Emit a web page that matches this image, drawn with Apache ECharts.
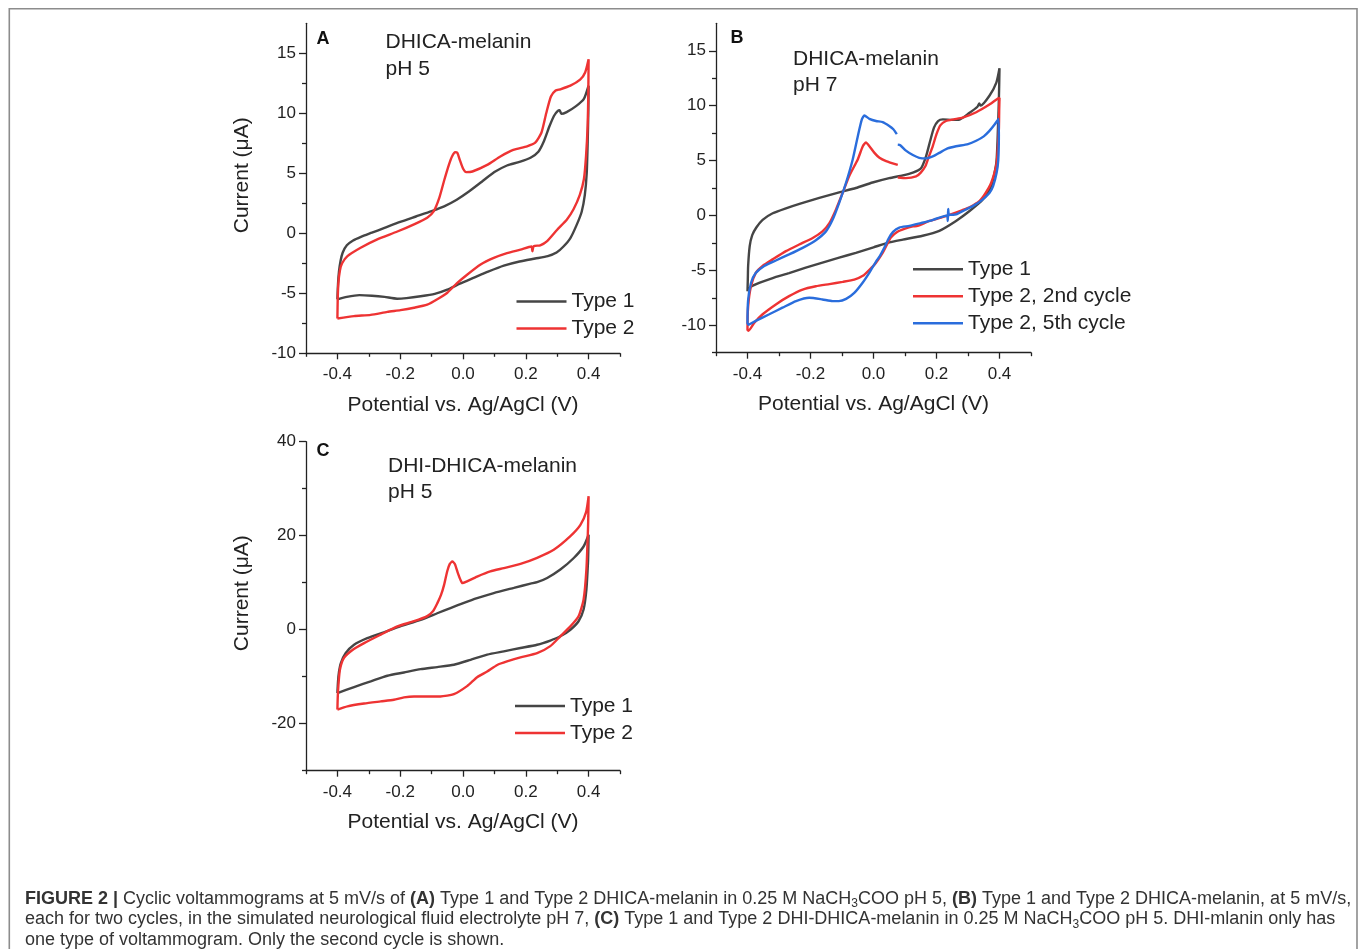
<!DOCTYPE html>
<html>
<head>
<meta charset="utf-8">
<title>Figure 2 - Cyclic voltammograms</title>
<script src="https://cdn.jsdelivr.net/npm/echarts@6/dist/echarts.min.js"></script>
<style>
  html, body { margin: 0; padding: 0; background: #ffffff; }
  #chart { width: 1362px; height: 949px; }
</style>
</head>
<body>
<div id="chart"></div>
<script>
// ---------------- Data (potential V, current µA), in scan order ----------------
const X_MAJOR = [-0.4, -0.2, 0.0, 0.2, 0.4];
const X_MINOR = [-0.5, -0.3, -0.1, 0.1, 0.3, 0.5];
const YA_MAJOR = [-10, -5, 0, 5, 10, 15];
const YA_MINOR = [-7.5, -2.5, 2.5, 7.5, 12.5];
const YB_MAJOR = [-10, -5, 0, 5, 10, 15];
const YB_MINOR = [-12.5, -7.5, -2.5, 2.5, 7.5, 12.5];
const YC_MAJOR = [-20, 0, 20, 40];
const YC_MINOR = [-30, -10, 10, 30];

// Panel A: DHICA-melanin pH 5
const A_type1 = [
  [-0.400,-5.5],[-0.398,-4.2],[-0.395,-3.2],[-0.390,-2.3],[-0.383,-1.6],[-0.370,-1.0],[-0.350,-0.6],
  [-0.325,-0.3],[-0.290,0.05],[-0.250,0.45],[-0.200,0.95],[-0.150,1.4],[-0.100,1.85],[-0.060,2.25],
  [-0.020,2.8],[0.020,3.5],[0.060,4.3],[0.100,5.1],[0.140,5.65],[0.180,5.95],[0.215,6.3],[0.240,6.8],
  [0.258,7.7],[0.275,8.9],[0.290,9.8],[0.302,10.2],[0.308,10.25],[0.313,9.95],[0.330,10.1],[0.360,10.6],
  [0.385,11.2],[0.400,12.3],
  [0.399,10.0],[0.397,7.5],[0.394,5.0],[0.388,3.2],[0.378,1.8],[0.362,0.7],[0.342,-0.4],[0.320,-1.1],
  [0.298,-1.6],[0.270,-1.9],[0.230,-2.1],[0.180,-2.35],[0.130,-2.7],[0.080,-3.2],[0.035,-3.7],
  [-0.010,-4.2],[-0.050,-4.7],[-0.090,-5.05],[-0.135,-5.25],[-0.180,-5.4],[-0.210,-5.45],[-0.250,-5.3],
  [-0.290,-5.2],[-0.330,-5.15],[-0.370,-5.3],[-0.400,-5.5]
];
const A_type2 = [
  [-0.400,-7.1],[-0.399,-5.5],[-0.397,-4.2],[-0.392,-3.1],[-0.385,-2.5],[-0.368,-1.9],[-0.326,-1.2],
  [-0.273,-0.5],[-0.209,0.15],[-0.156,0.75],[-0.114,1.3],[-0.093,1.85],[-0.075,3.0],[-0.060,4.4],
  [-0.045,5.7],[-0.035,6.4],[-0.025,6.75],[-0.018,6.7],[-0.010,6.1],[0.000,5.4],[0.010,5.1],[0.030,5.15],
  [0.077,5.7],[0.119,6.4],[0.160,6.95],[0.204,7.25],[0.230,7.55],[0.250,8.4],[0.265,10.0],[0.280,11.4],
  [0.295,11.9],[0.310,12.0],[0.342,12.3],[0.373,12.8],[0.389,13.4],[0.400,14.5],
  [0.399,11.5],[0.397,9.0],[0.392,6.5],[0.385,4.5],[0.372,3.2],[0.352,2.0],[0.331,1.15],[0.300,0.3],
  [0.268,-0.65],[0.246,-1.0],[0.225,-1.08],[0.221,-1.5],[0.218,-1.1],[0.183,-1.36],[0.140,-1.65],
  [0.098,-2.05],[0.056,-2.6],[0.013,-3.45],[-0.019,-4.15],[-0.050,-4.95],[-0.082,-5.5],[-0.114,-5.95],
  [-0.156,-6.2],[-0.199,-6.4],[-0.241,-6.55],[-0.294,-6.8],[-0.347,-6.9],[-0.400,-7.1]
];

// Panel B: DHICA-melanin pH 7
const B_type1 = [
  [-0.400,-6.9],[-0.399,-5.8],[-0.398,-4.6],[-0.393,-2.8],[-0.385,-1.8],[-0.372,-1.1],[-0.352,-0.4],
  [-0.320,0.2],[-0.278,0.65],[-0.230,1.1],[-0.172,1.6],[-0.109,2.1],[-0.056,2.5],[-0.003,3.0],[0.050,3.4],
  [0.093,3.65],[0.125,3.9],[0.151,4.3],[0.167,5.4],[0.180,6.8],[0.192,8.0],[0.205,8.6],[0.220,8.75],
  [0.250,8.7],[0.270,8.7],[0.305,9.35],[0.330,9.9],[0.336,10.2],[0.340,10.0],[0.368,10.9],[0.390,12.1],
  [0.400,13.4],
  [0.398,10.5],[0.395,7.85],[0.390,4.8],[0.374,2.7],[0.347,1.45],[0.305,0.4],[0.262,-0.5],[0.209,-1.4],
  [0.156,-1.85],[0.093,-2.2],[0.050,-2.45],[0.000,-2.9],[-0.056,-3.4],[-0.109,-3.85],[-0.162,-4.3],
  [-0.215,-4.75],[-0.268,-5.25],[-0.320,-5.7],[-0.363,-6.15],[-0.389,-6.5],[-0.400,-6.9]
];
const B_type2_2nd = [
  [0.077,3.45],[0.103,3.4],[0.135,3.55],[0.150,3.9],[0.165,4.5],[0.175,5.3],[0.188,6.3],[0.200,7.4],
  [0.212,8.2],[0.230,8.6],[0.255,8.75],[0.283,8.9],[0.326,9.4],[0.368,10.1],[0.395,10.65],[0.400,10.7],
  [0.399,9.5],[0.398,7.85],[0.391,4.8],[0.374,3.0],[0.355,2.0],[0.336,1.3],[0.305,0.75],[0.283,0.5],
  [0.230,-0.06],[0.178,-0.5],[0.140,-0.95],[0.125,-1.0],[0.100,-1.2],[0.075,-1.5],[0.055,-2.0],
  [0.040,-2.8],[0.029,-3.4],[0.008,-4.3],[-0.013,-4.95],[-0.034,-5.5],[-0.061,-5.85],[-0.098,-6.05],
  [-0.140,-6.25],[-0.183,-6.45],[-0.225,-6.75],[-0.268,-7.35],[-0.310,-8.1],[-0.352,-9.0],[-0.379,-9.8],
  [-0.397,-10.5],[-0.400,-10.4],
  [-0.398,-8.3],[-0.389,-6.45],[-0.374,-5.25],[-0.352,-4.6],[-0.320,-4.0],[-0.278,-3.25],[-0.236,-2.65],
  [-0.193,-2.05],[-0.162,-1.45],[-0.140,-0.7],[-0.119,0.55],[-0.098,2.05],[-0.077,3.6],[-0.050,5.1],
  [-0.034,6.3],[-0.024,6.65],[-0.013,6.3],[0.003,5.7],[0.019,5.25],[0.040,4.95],[0.077,4.6]
];
const B_type2_5th = [
  [0.077,6.45],[0.085,6.4],[0.103,5.9],[0.125,5.5],[0.145,5.25],[0.167,5.2],[0.190,5.4],[0.209,5.7],
  [0.235,6.1],[0.262,6.3],[0.300,6.5],[0.326,6.8],[0.350,7.2],[0.368,7.7],[0.385,8.3],[0.397,8.8],
  [0.398,7.3],[0.396,5.0],[0.391,3.9],[0.380,2.7],[0.368,2.05],[0.340,1.3],[0.315,0.85],[0.290,0.5],
  [0.262,0.1],[0.240,0.05],[0.237,0.6],[0.236,-0.5],[0.233,0.0],[0.199,-0.3],[0.178,-0.5],[0.150,-0.7],
  [0.114,-0.95],[0.082,-1.1],[0.062,-1.5],[0.048,-2.1],[0.035,-2.9],[0.020,-3.7],[0.008,-4.2],
  [-0.013,-5.2],[-0.034,-6.1],[-0.061,-7.05],[-0.087,-7.6],[-0.110,-7.8],[-0.130,-7.8],[-0.162,-7.65],
  [-0.204,-7.5],[-0.246,-7.8],[-0.289,-8.4],[-0.331,-9.0],[-0.374,-9.6],[-0.397,-9.95],[-0.400,-9.8],
  [-0.398,-7.7],[-0.389,-6.15],[-0.374,-5.25],[-0.347,-4.6],[-0.310,-4.1],[-0.268,-3.55],[-0.225,-2.95],
  [-0.183,-2.25],[-0.151,-1.45],[-0.130,-0.4],[-0.109,1.15],[-0.087,3.0],[-0.066,5.1],[-0.050,7.2],
  [-0.037,8.75],[-0.029,9.1],[-0.013,8.8],[0.008,8.6],[0.029,8.5],[0.050,8.15],[0.063,7.85],[0.074,7.4]
];

// Panel C: DHI-DHICA-melanin pH 5
const C_type1 = [
  [-0.400,-13.5],[-0.398,-11.0],[-0.395,-9.0],[-0.389,-7.1],[-0.374,-5.0],[-0.347,-3.2],[-0.305,-1.8],
  [-0.252,-0.55],[-0.200,0.7],[-0.135,2.1],[-0.082,3.5],[-0.040,4.6],[0.003,5.7],[0.045,6.7],[0.098,7.8],
  [0.162,8.9],[0.215,9.8],[0.236,10.1],[0.268,11.0],[0.310,12.8],[0.352,15.2],[0.384,17.7],[0.400,20.2],
  [0.399,16.5],[0.398,14.2],[0.393,8.5],[0.384,4.3],[0.368,1.8],[0.342,0.0],[0.310,-1.4],[0.278,-2.3],
  [0.236,-3.2],[0.183,-3.9],[0.130,-4.6],[0.077,-5.3],[0.024,-6.4],[-0.029,-7.45],[-0.082,-7.95],
  [-0.135,-8.4],[-0.188,-9.1],[-0.241,-9.8],[-0.294,-11.0],[-0.347,-12.2],[-0.400,-13.5]
];
const C_type2 = [
  [-0.400,-17.0],[-0.399,-14.5],[-0.397,-12.0],[-0.392,-8.5],[-0.379,-6.0],[-0.352,-4.3],[-0.315,-2.85],
  [-0.262,-1.05],[-0.209,0.7],[-0.156,1.8],[-0.114,2.9],[-0.095,4.0],[-0.082,5.6],[-0.070,7.4],
  [-0.060,9.6],[-0.050,12.5],[-0.042,14.0],[-0.034,14.5],[-0.026,14.0],[-0.016,12.0],[-0.008,10.6],
  [-0.002,9.9],[0.013,10.3],[0.045,11.3],[0.087,12.4],[0.130,13.1],[0.183,14.0],[0.236,15.3],
  [0.289,17.0],[0.342,19.9],[0.374,22.3],[0.392,25.0],[0.400,28.4],
  [0.399,24.0],[0.398,21.3],[0.393,12.8],[0.384,6.4],[0.368,2.85],[0.342,0.7],[0.310,-1.4],[0.278,-3.5],
  [0.236,-5.0],[0.183,-5.9],[0.140,-6.75],[0.109,-7.5],[0.077,-8.9],[0.045,-10.1],[0.013,-12.0],
  [-0.029,-13.7],[-0.072,-14.2],[-0.114,-14.2],[-0.156,-14.2],[-0.188,-14.4],[-0.220,-14.9],
  [-0.262,-15.25],[-0.315,-15.7],[-0.368,-16.3],[-0.400,-17.0]
];

// ---------------- Styling ----------------
const FONT = '"Liberation Sans", Arial, Helvetica, sans-serif';
const AXIS_COLOR = '#222';
const GRAY = '#454545', RED = '#ee3333', BLUE = '#2a6ddc';
const X_TITLE = 'Potential vs. Ag/AgCl (V)';
const Y_TITLE = 'Current (\u03bcA)';

const grids = [
  { left: 306, top: 23.3, width: 314, height: 330 },   // A
  { left: 716, top: 23.3, width: 315, height: 329.4 }, // B
  { left: 306, top: 441.7, width: 314, height: 329 }   // C
];
const yRanges = [[-10, 17.5], [-12.5, 17.5], [-30, 40]];
const yMajor = [YA_MAJOR, YB_MAJOR, YC_MAJOR];
const yMinor = [YA_MINOR, YB_MINOR, YC_MINOR];
const yNames = [Y_TITLE, '', Y_TITLE];

const lineStyleAxis = { color: AXIS_COLOR, width: 1.3 };
const xAxes = [], yAxes = [];
grids.forEach((g, i) => {
  xAxes.push({
    type: 'value', gridIndex: i, min: -0.5, max: 0.5, position: 'bottom',
    axisLine: { show: true, onZero: false, lineStyle: lineStyleAxis },
    axisTick: { show: true, customValues: X_MAJOR, length: 6, lineStyle: lineStyleAxis },
    axisLabel: { show: true, customValues: X_MAJOR, formatter: v => Number(v).toFixed(1),
                 fontSize: 17, color: AXIS_COLOR, fontFamily: FONT, margin: 13 },
    splitLine: { show: false },
    name: X_TITLE, nameLocation: 'middle', nameGap: 41,
    nameTextStyle: { fontSize: 21, color: AXIS_COLOR, fontFamily: FONT }
  });
  xAxes.push({
    type: 'value', gridIndex: i, min: -0.5, max: 0.5, position: 'bottom',
    axisLine: { show: false, onZero: false },
    axisTick: { show: true, customValues: X_MINOR, length: 3.5, lineStyle: lineStyleAxis },
    axisLabel: { show: false }, splitLine: { show: false }
  });
  yAxes.push({
    type: 'value', gridIndex: i, min: yRanges[i][0], max: yRanges[i][1], position: 'left',
    axisLine: { show: true, onZero: false, lineStyle: lineStyleAxis },
    axisTick: { show: true, customValues: yMajor[i], length: 7, lineStyle: lineStyleAxis },
    axisLabel: { show: true, customValues: yMajor[i], fontSize: 17, color: AXIS_COLOR,
                 fontFamily: FONT, margin: 10 },
    splitLine: { show: false },
    name: yNames[i], nameLocation: 'middle', nameGap: 53,
    nameTextStyle: { fontSize: 21, color: AXIS_COLOR, fontFamily: FONT, padding: [0, 0, 0, 26] }
  });
  yAxes.push({
    type: 'value', gridIndex: i, min: yRanges[i][0], max: yRanges[i][1], position: 'left',
    axisLine: { show: false, onZero: false },
    axisTick: { show: true, customValues: yMinor[i], length: 4, lineStyle: lineStyleAxis },
    axisLabel: { show: false }, splitLine: { show: false }
  });
});

function cv(name, data, color, gi) {
  return {
    type: 'line', name: name, data: data, xAxisIndex: gi * 2, yAxisIndex: gi * 2,
    showSymbol: false, symbol: 'none', smooth: 0.2, clip: false,
    lineStyle: { color: color, width: 2.4 }, itemStyle: { color: color },
    emphasis: { disabled: true }
  };
}

const legendBase = {
  orient: 'vertical', icon: 'rect', itemWidth: 50, itemHeight: 2.6, itemGap: 6, padding: 0,
  selectedMode: false,
  textStyle: { fontSize: 21, lineHeight: 21, color: AXIS_COLOR, fontFamily: FONT }
};

function txt(x, y, text, size, bold) {
  return { type: 'text', x: x, y: y, silent: true,
    style: { text: text, fontSize: size, fontWeight: bold ? 'bold' : 'normal', fontFamily: FONT,
             fill: bold ? '#111' : AXIS_COLOR, align: 'left', verticalAlign: 'middle' } };
}

const captionRich = {
  b: { fontWeight: 'bold', fontSize: 18, lineHeight: 22, fontFamily: FONT, color: '#111' },
  s: { fontSize: 12, lineHeight: 12, padding: [10, 0, 0, 0], fontFamily: FONT, color: '#333' }
};
const CAPTION = [
  '{b|FIGURE 2 |} Cyclic voltammograms at 5 mV/s of {b|(A)} Type 1 and Type 2 DHICA-melanin in 0.25 M NaCH{s|3}COO pH 5, {b|(B)} Type 1 and Type 2 DHICA-melanin, at 5 mV/s,',
  'each for two cycles, in the simulated neurological fluid electrolyte pH 7, {b|(C)} Type 1 and Type 2 DHI-DHICA-melanin in 0.25 M NaCH{s|3}COO pH 5. DHI-mlanin only has',
  'one type of voltammogram. Only the second cycle is shown.'
];
const CAPTION_Y = [899, 919.5, 940];

const graphics = [
  { type: 'rect', silent: true, shape: { x: 9.3, y: 8.7, width: 1347.7, height: 960 },
    style: { fill: 'none', stroke: '#8c8c8c', lineWidth: 1.6 } },
  txt(316.5, 39, 'A', 18, true),
  txt(385.5, 42, 'DHICA-melanin', 21, false),
  txt(385.5, 69, 'pH 5', 21, false),
  txt(730.5, 38.5, 'B', 18, true),
  txt(793, 59, 'DHICA-melanin', 21, false),
  txt(793, 85, 'pH 7', 21, false),
  txt(316.5, 451, 'C', 18, true),
  txt(388, 466, 'DHI-DHICA-melanin', 21, false),
  txt(388, 492, 'pH 5', 21, false)
];
CAPTION.forEach((line, i) => {
  graphics.push({ type: 'text', x: 25, y: CAPTION_Y[i], silent: true,
    style: { text: line, rich: captionRich, fontSize: 18, lineHeight: 22, fontFamily: FONT,
             fill: '#333', align: 'left', verticalAlign: 'middle' } });
});

const chart = echarts.init(document.getElementById('chart'), null, { renderer: 'canvas' });
chart.setOption({
  backgroundColor: '#ffffff',
  animation: false,
  textStyle: { fontFamily: FONT },
  grid: grids.map(g => Object.assign({ containLabel: false }, g)),
  xAxis: xAxes,
  yAxis: yAxes,
  legend: [
    Object.assign({}, legendBase, { left: 516.5, top: 291, data: ['Type 1', 'Type 2'] }),
    Object.assign({}, legendBase, { left: 913, top: 258.8, data: ['Type 1', 'Type 2, 2nd cycle', 'Type 2, 5th cycle'] }),
    Object.assign({}, legendBase, { left: 515, top: 695.5, data: ['Type 1', 'Type 2'] })
  ],
  series: [
    cv('Type 1', A_type1, GRAY, 0),
    cv('Type 2', A_type2, RED, 0),
    cv('Type 1', B_type1, GRAY, 1),
    cv('Type 2, 2nd cycle', B_type2_2nd, RED, 1),
    cv('Type 2, 5th cycle', B_type2_5th, BLUE, 1),
    cv('Type 1', C_type1, GRAY, 2),
    cv('Type 2', C_type2, RED, 2)
  ],
  graphic: graphics
});
</script>
</body>
</html>
